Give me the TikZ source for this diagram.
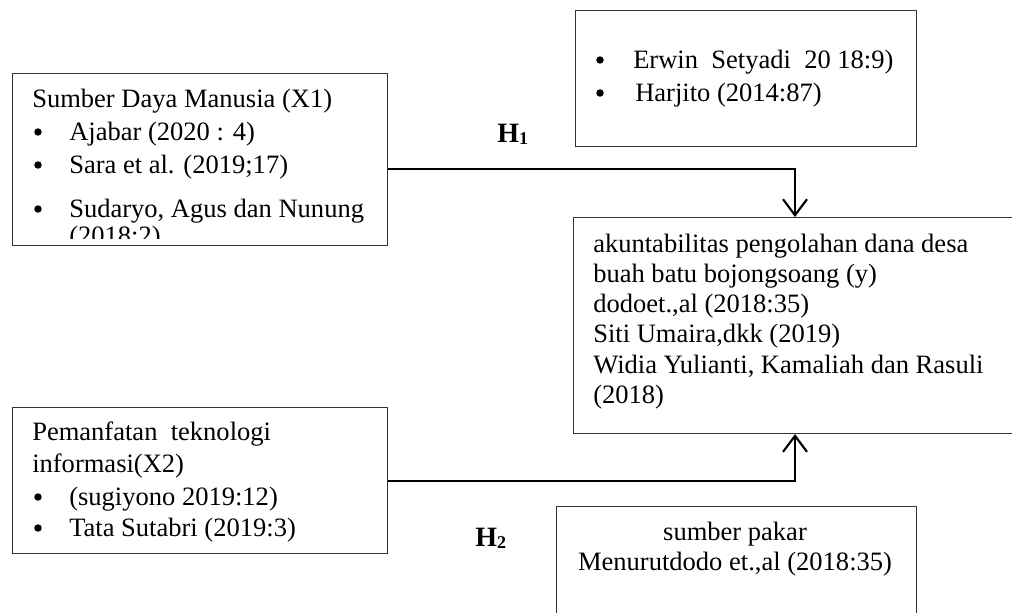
\documentclass[tikz,border=0pt]{standalone}
\usepackage{fontspec}
\setmainfont{Liberation Serif}
\usetikzlibrary{arrows.meta}
\begin{document}
\begin{tikzpicture}[x=0.75pt,y=-0.75pt,
 box/.style n args={2}{draw=black!80,line width=0.8pt,anchor=north west,inner sep=0,minimum width=#1*0.75pt,minimum height=#2*0.75pt},
 txt/.style={anchor=base west,inner sep=0,font=\fontsize{19.9}{24}\selectfont},
 bul/.style={circle,fill=black,inner sep=0,minimum size=5.6pt},
 ctr/.style={anchor=base,inner sep=0,font=\fontsize{19.9}{24}\selectfont},
 conn/.style={line width=1.6pt,-{Straight Barb[length=12pt,width=18pt,line width=1.6pt]}},
 hyp/.style={anchor=base west,inner sep=0,font=\fontsize{21}{24}\selectfont\bfseries}]
\useasboundingbox (0,0) rectangle (1012,612);
\clip (0,0) rectangle (1012,612);
\newcommand{\hsub}[1]{\raisebox{-1.5pt}{\fontsize{13.5}{15}\selectfont #1}}

% boxes
\node[box={375}{172}] (X1) at (12,73) {};
\node[box={341}{136}] (R1) at (575,10) {};
\node[box={460}{216}] (Y) at (573,217) {};
\node[box={375}{146}] (X2) at (12,407) {};
\node[box={360}{140}] (P) at (556,506) {};

% X1 text (clipped)
\begin{scope}
\clip (12,73) rectangle (387,238);
\node[txt] (x1t) at (32,107) {Sumber Daya Manusia (X1)};
\node[bul] (x1b1) at (38,132) {};
\node[txt] (x1a) at (69,140) {Ajabar (2020 : 4)};
\node[bul] (x1b2) at (38,165) {};
\node[txt] (x1b) at (69,173) {Sara et al. (2019;17)};
\node[bul] (x1b3) at (38,209) {};
\node[txt] (x1c) at (69,217) {Sudaryo, Agus dan Nunung};
\node[txt] (x1d) at (69,244) {(2018:2)};
\end{scope}

% top right box text
\node[bul] (r1b1) at (600,60) {};
\node[txt] (r1a) at (633,68) {Erwin\ \ Setyadi\ \ 20 18:9)};
\node[bul] (r1b2) at (600,93) {};
\node[txt] (r1b) at (635,101) {Harjito (2014:87)};

% Y box text
\node[txt] (y1) at (593,252) {akuntabilitas pengolahan dana desa};
\node[txt] (y2) at (593,282) {buah batu bojongsoang (y)};
\node[txt] (y3) at (593,312) {dodoet.,al (2018:35)};
\node[txt] (y4) at (593,342) {Siti Umaira,dkk (2019)};
\node[txt] (y5) at (593,373) {Widia Yulianti, Kamaliah dan Rasuli};
\node[txt] (y6) at (593,403) {(2018)};

% X2 text
\node[txt] (x2t) at (32,440) {Pemanfatan\ \ teknologi};
\node[txt] (x2u) at (32,472) {informasi(X2)};
\node[bul] (x2b1) at (38,497) {};
\node[txt] (x2a) at (69,505) {(sugiyono 2019:12)};
\node[bul] (x2b2) at (38,528) {};
\node[txt] (x2b) at (69,536) {Tata Sutabri (2019:3)};

% sumber pakar text
\node[ctr] (p1) at (735,540) {sumber pakar};
\node[ctr] (p2) at (735,570) {Menurutdodo et.,al (2018:35)};

% hypothesis labels
\node[hyp] (H1) at (497,142) {H\hsub{1}};
\node[hyp] (H2) at (475,546) {H\hsub{2}};

% connectors
\coordinate (c1) at (795,169);
\coordinate (c2) at (795,481);
\draw[conn] (X1.east |- c1) -| (Y.north -| c1);
\draw[conn] (X2.east |- c2) -| (Y.south -| c2);
\end{tikzpicture}
\end{document}
